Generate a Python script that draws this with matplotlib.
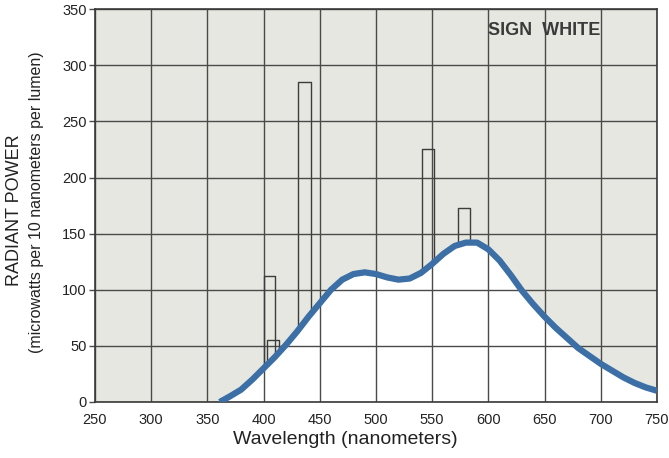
import numpy as np
import matplotlib.pyplot as plt

plt.rcParams['font.family'] = ['Liberation Sans', 'DejaVu Sans']

# continuous spectrum of the lamp (nm, microwatts per 10 nm per lumen)
wavelength = [361, 370, 380, 390, 400, 410, 420, 430, 440, 450, 460, 470, 480,
              490, 500, 510, 520, 530, 540, 550, 560, 570, 580, 590, 600, 610,
              620, 630, 640, 650, 660, 670, 680, 690, 700, 710, 720, 730, 740, 750]
power = [0, 5, 11, 20, 30, 40, 51, 63, 76, 88, 100, 109, 114,
         115.5, 114, 111, 109, 110, 115, 123, 132, 139, 142, 142, 136, 126,
         113, 99, 87, 76, 66, 57, 48, 41, 34, 28, 22, 17, 13, 10]

# mercury emission lines drawn as 10 nm blocks
line_left = [400, 403, 431, 541, 573]
line_right = [410, 414, 442, 552, 584]
line_top = [112, 55, 285, 225, 173]

x_ticks = [250, 300, 350, 400, 450, 500, 550, 600, 650, 700, 750]
y_ticks = [0, 50, 100, 150, 200, 250, 300, 350]

bg = '#e7e7e1'
grid_col = '#4a4a4a'

fig = plt.figure(figsize=(6.69, 4.58), dpi=100)
ax = fig.add_axes([0.142, 0.1223, 0.840, 0.8577])
ax.set_facecolor(bg)

ax.fill_between(wavelength, power, 0, color='white', zorder=1)

for v in x_ticks:
    ax.axvline(v, color=grid_col, lw=1.0, zorder=2)
for v in y_ticks:
    ax.axhline(v, color=grid_col, lw=1.0, zorder=2)

for l, r, t in zip(line_left, line_right, line_top):
    bl = np.interp(l, wavelength, power)
    br = np.interp(r, wavelength, power)
    ax.plot([l, l, r, r], [bl, t, t, br], color='#3c3c3c', lw=1.0, zorder=3)

ax.plot(wavelength, power, color='#3b6fa6', lw=4.5, solid_capstyle='butt',
        solid_joinstyle='round', zorder=4)

ax.set_xlim(250, 750)
ax.set_ylim(0, 350)
ax.set_xticks(x_ticks)
ax.set_yticks(y_ticks)
ax.tick_params(axis='x', length=0, pad=8, labelsize=10.5, colors='#222222')
ax.tick_params(axis='y', length=4, width=1, pad=2, labelsize=10.5,
               colors='#222222', color=grid_col)
for s in ax.spines.values():
    s.set_color('#3a3a3a')
    s.set_linewidth(1.2)

ax.text(600, 331, 'SIGN  WHITE', fontsize=13, fontweight='bold',
        color='#3a3a3a', va='center', ha='left')

fig.text(0.516, 0.04, 'Wavelength (nanometers)', fontsize=14,
         color='#222222', ha='center', va='center')
fig.text(0.022, 0.541, 'RADIANT POWER', rotation=90, fontsize=13,
         color='#222222', ha='center', va='center')
fig.text(0.054, 0.559, '(microwatts per 10 nanometers per lumen)', rotation=90,
         fontsize=11.5, color='#222222', ha='center', va='center')

fig.savefig('out.png', dpi=100, facecolor='white')
